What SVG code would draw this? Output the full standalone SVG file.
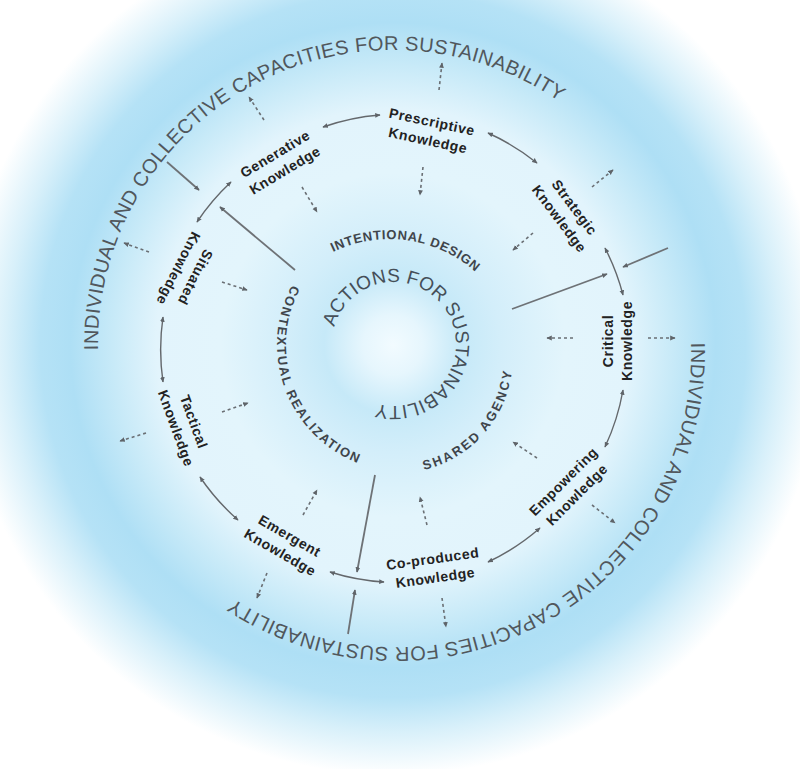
<svg xmlns="http://www.w3.org/2000/svg" width="800" height="769" viewBox="0 0 800 769">
<defs>
  <radialGradient id="bg" gradientUnits="userSpaceOnUse" cx="393" cy="345" r="430">
    <stop offset="0" stop-color="#f2fbff"/>
    <stop offset="0.07" stop-color="#e6f6fd"/>
    <stop offset="0.16" stop-color="#c6e9f8"/>
    <stop offset="0.25" stop-color="#d3eefa"/>
    <stop offset="0.4" stop-color="#e3f5fc"/>
    <stop offset="0.55" stop-color="#e2f4fc"/>
    <stop offset="0.65" stop-color="#c8eaf8"/>
    <stop offset="0.75" stop-color="#aedff5"/>
    <stop offset="0.82" stop-color="#b5e2f6"/>
    <stop offset="0.9" stop-color="#d8f0fa"/>
    <stop offset="1" stop-color="#ffffff"/>
  </radialGradient>
  <marker id="ah" viewBox="0 0 10 10" refX="8" refY="5" markerWidth="6" markerHeight="6" markerUnits="userSpaceOnUse" orient="auto-start-reverse">
    <path d="M0,1 L9,5 L0,9 z" fill="#5f6469"/>
  </marker>
  <path id="pOuter1" d="M98.04,350.15 A295,295 0 0 1 566.40,106.34"/>
  <path id="pOuter2" d="M690.96,342.85 A295,295 0 0 1 219.60,588.66"/>
  <path id="pInner" d="M334.40,326.91 A62,62 0 1 1 373.81,402.62"/>
  <path id="pIntent" d="M333,252 A130,130 0 0 1 481,277"/>
  <path id="pContext" d="M292,285 A127,127 0 0 0 360,464"/>
  <path id="pShared" d="M424,470 A116,116 0 0 0 512,370"/>
</defs>
<style>
  .txt{font-family:"Liberation Sans",Arial,sans-serif}
  .outer{font-size:20px;fill:#51575c}
  .inner{font-size:19px;fill:#454f58}
  .mid{font-size:13px;fill:#3f454b;font-weight:bold}
  .kn{font-family:"Liberation Sans",Arial,sans-serif;font-weight:bold;font-size:14px;letter-spacing:0.6px;fill:#222;text-anchor:middle}
  .ring{fill:none;stroke:#64686c;stroke-width:1.4}
  .dash{fill:none;stroke:#6a6f74;stroke-width:1.6;stroke-dasharray:3 3}
  .line{fill:none;stroke:#6e7276;stroke-width:1.8}
</style>
<rect width="800" height="769" fill="url(#bg)"/>

<g id="ring-texts" class="txt">
  <text class="outer"><textPath href="#pOuter1" textLength="645" lengthAdjust="spacing">INDIVIDUAL AND COLLECTIVE CAPACITIES FOR SUSTAINABILITY</textPath></text>
  <text class="outer"><textPath href="#pOuter2" textLength="645" lengthAdjust="spacing">INDIVIDUAL AND COLLECTIVE CAPACITIES FOR SUSTAINABILITY</textPath></text>
  <text class="inner"><textPath href="#pInner" textLength="292" lengthAdjust="spacing">ACTIONS FOR SUSTAINABILITY</textPath></text>
  <text class="mid"><textPath href="#pIntent" textLength="152" lengthAdjust="spacing">INTENTIONAL DESIGN</textPath></text>
  <text class="mid"><textPath href="#pContext" textLength="214" lengthAdjust="spacing">CONTEXTUAL REALIZATION</textPath></text>
  <text class="mid"><textPath href="#pShared" textLength="140" lengthAdjust="spacing">SHARED AGENCY</textPath></text>
</g>

<g id="connectors">
  <path class="ring" marker-start="url(#ah)" marker-end="url(#ah)" d="M323,127 A225,225 0 0 1 380,115"/>
  <path class="ring" marker-start="url(#ah)" marker-end="url(#ah)" d="M488,133 A225,225 0 0 1 537,163"/>
  <path class="ring" marker-start="url(#ah)" marker-end="url(#ah)" d="M605,248 A225,225 0 0 1 623,295"/>
  <path class="ring" marker-start="url(#ah)" marker-end="url(#ah)" d="M623,390 A225,225 0 0 1 605,447"/>
  <path class="ring" marker-start="url(#ah)" marker-end="url(#ah)" d="M540,528 A225,225 0 0 1 488,562"/>
  <path class="ring" marker-start="url(#ah)" marker-end="url(#ah)" d="M384,582 A225,225 0 0 1 330,572"/>
  <path class="ring" marker-start="url(#ah)" marker-end="url(#ah)" d="M238,520 A225,225 0 0 1 200,477"/>
  <path class="ring" marker-start="url(#ah)" marker-end="url(#ah)" d="M163,382 A225,225 0 0 1 163,317"/>
  <path class="ring" marker-start="url(#ah)" marker-end="url(#ah)" d="M197,222 A225,225 0 0 1 231,182"/>
  <path class="line" marker-end="url(#ah)" d="M295,270 L220,207"/>
  <path class="line" marker-end="url(#ah)" d="M167,162 L199,190"/>
  <path class="line" marker-end="url(#ah)" d="M512,309 L607,274"/>
  <path class="line" marker-end="url(#ah)" d="M668,248 L623,267"/>
  <path class="line" marker-end="url(#ah)" d="M375,475 L357,572"/>
  <path class="line" marker-end="url(#ah)" d="M348,634 L355,590"/>
  <path class="dash" marker-end="url(#ah)" d="M264,120 L249,97"/>
  <path class="dash" marker-end="url(#ah)" d="M302,187 L317,212"/>
  <path class="dash" marker-end="url(#ah)" d="M423,167 L420,195"/>
  <path class="dash" marker-end="url(#ah)" d="M439,90 L442,63"/>
  <path class="dash" marker-end="url(#ah)" d="M533,233 L513,250"/>
  <path class="dash" marker-end="url(#ah)" d="M592,187 L613,170"/>
  <path class="dash" marker-end="url(#ah)" d="M573,338 L547,338"/>
  <path class="dash" marker-end="url(#ah)" d="M648,338 L675,338"/>
  <path class="dash" marker-end="url(#ah)" d="M537,458 L513,442"/>
  <path class="dash" marker-end="url(#ah)" d="M592,505 L615,523"/>
  <path class="dash" marker-end="url(#ah)" d="M427,525 L420,497"/>
  <path class="dash" marker-end="url(#ah)" d="M442,598 L446,627"/>
  <path class="dash" marker-end="url(#ah)" d="M303,515 L317,490"/>
  <path class="dash" marker-end="url(#ah)" d="M267,573 L257,598"/>
  <path class="dash" marker-end="url(#ah)" d="M222,412 L248,403"/>
  <path class="dash" marker-end="url(#ah)" d="M146,433 L120,441"/>
  <path class="dash" marker-end="url(#ah)" d="M222,282 L247,290"/>
  <path class="dash" marker-end="url(#ah)" d="M149,252 L124,243"/>
</g>

<g id="prescriptive" transform="translate(430,131) rotate(12)"><text class="kn" y="-4.5">Prescriptive</text><text class="kn" y="14.5">Knowledge</text></g>
<g id="generative" transform="translate(280,162) rotate(-31)"><text class="kn" y="-4.5">Generative</text><text class="kn" y="14.5">Knowledge</text></g>
<g id="strategic" transform="translate(567,213) rotate(53)"><text class="kn" y="-4.5">Strategic</text><text class="kn" y="14.5">Knowledge</text></g>
<g id="critical" transform="translate(617,341) rotate(-90)"><text class="kn" y="-4.5">Critical</text><text class="kn" y="14.5">Knowledge</text></g>
<g id="empowering" transform="translate(570,488) rotate(-45)"><text class="kn" y="-4.5">Empowering</text><text class="kn" y="14.5">Knowledge</text></g>
<g id="coproduced" transform="translate(434,568) rotate(-8)"><text class="kn" y="-4.5">Co-produced</text><text class="kn" y="14.5">Knowledge</text></g>
<g id="emergent" transform="translate(285,544) rotate(30)"><text class="kn" y="-4.5">Emergent</text><text class="kn" y="14.5">Knowledge</text></g>
<g id="tactical" transform="translate(185,425) rotate(70)"><text class="kn" y="-4.5">Tactical</text><text class="kn" y="14.5">Knowledge</text></g>
<g id="situated" transform="translate(187,273) rotate(117)"><text class="kn" y="-4.5">Situated</text><text class="kn" y="14.5">Knowledge</text></g>
</svg>
